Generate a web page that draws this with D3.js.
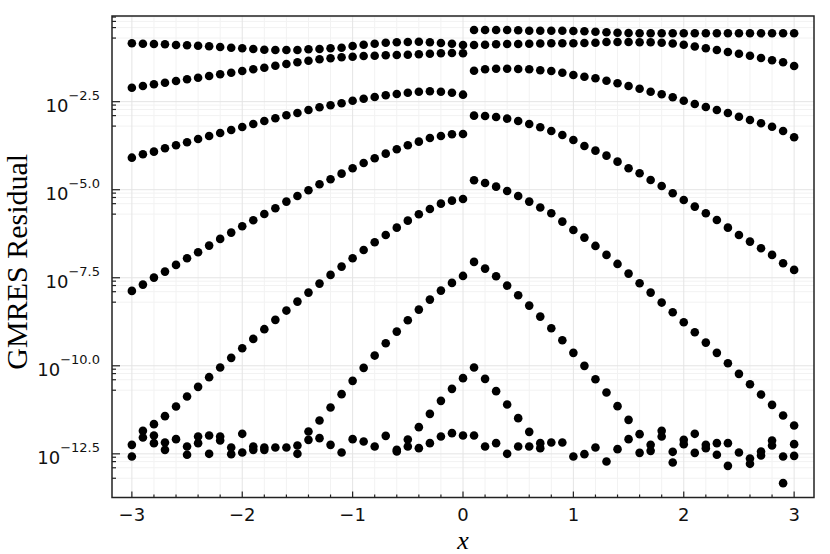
<!DOCTYPE html>
<html><head><meta charset="utf-8">
<script src="https://cdn.jsdelivr.net/npm/d3@7"></script>
<style>body{margin:0;background:#fff}</style>
</head><body>
<svg id="c" width="830" height="554"></svg>
<script>
// x positions of the samples
const xValues = [-3.0,-2.9,-2.8,-2.7,-2.6,-2.5,-2.4,-2.3,-2.2,-2.1,-2.0,-1.9,-1.8,-1.7,-1.6,-1.5,-1.4,-1.3,-1.2,-1.1,-1.0,-0.9,-0.8,-0.7,-0.6,-0.5,-0.4,-0.3,-0.2,-0.1,0.0,
  0.1,0.2,0.3,0.4,0.5,0.6,0.7,0.8,0.9,1.0,1.1,1.2,1.3,1.4,1.5,1.6,1.7,1.8,1.9,2.0,2.1,2.2,2.3,2.4,2.5,2.6,2.7,2.8,2.9,3.0];

// log10 of the GMRES residual, one array per iteration count
const iter1 = [-0.842,-0.854,-0.862,-0.871,-0.891,-0.899,-0.910,-0.927,-0.947,-0.967,-0.984,-1.004,-1.024,-1.032,-1.032,-1.032,-1.013,-1.004,-0.984,-0.967,-0.919,-0.882,-0.854,-0.825,-0.814,-0.805,-0.797,-0.814,-0.834,-0.854,-0.891,
  -0.465,-0.465,-0.465,-0.465,-0.473,-0.485,-0.485,-0.485,-0.485,-0.493,-0.502,-0.513,-0.530,-0.541,-0.550,-0.558,-0.558,-0.558,-0.558,-0.558,-0.558,-0.558,-0.558,-0.558,-0.558,-0.558,-0.558,-0.558,-0.558,-0.558];
const iter2 = [-2.103,-2.054,-2.006,-1.961,-1.912,-1.864,-1.819,-1.770,-1.722,-1.677,-1.629,-1.580,-1.535,-1.478,-1.430,-1.382,-1.336,-1.296,-1.268,-1.240,-1.223,-1.203,-1.194,-1.183,-1.174,-1.166,-1.155,-1.137,-1.126,-1.118,-1.126,
  -0.891,-0.882,-0.871,-0.862,-0.862,-0.854,-0.848,-0.842,-0.842,-0.842,-0.834,-0.825,-0.805,-0.805,-0.805,-0.811,-0.814,-0.825,-0.848,-0.885,-0.933,-0.981,-1.032,-1.089,-1.137,-1.197,-1.260,-1.325,-1.379,-1.487];
const iter3 = [-4.090,-3.993,-3.919,-3.823,-3.738,-3.652,-3.559,-3.474,-3.388,-3.303,-3.218,-3.133,-3.048,-2.971,-2.886,-2.821,-2.736,-2.659,-2.602,-2.545,-2.472,-2.415,-2.367,-2.318,-2.281,-2.245,-2.216,-2.205,-2.216,-2.245,-2.301,
  -1.620,-1.580,-1.563,-1.563,-1.572,-1.580,-1.609,-1.629,-1.677,-1.742,-1.790,-1.836,-1.904,-1.978,-2.054,-2.131,-2.216,-2.290,-2.375,-2.472,-2.565,-2.650,-2.736,-2.821,-2.926,-3.019,-3.113,-3.210,-3.332,-3.511];
const iter4 = [-7.873,-7.694,-7.496,-7.325,-7.135,-6.945,-6.775,-6.587,-6.397,-6.218,-6.037,-5.866,-5.688,-5.526,-5.338,-5.177,-5.015,-4.845,-4.703,-4.544,-4.390,-4.240,-4.107,-3.976,-3.851,-3.738,-3.635,-3.530,-3.474,-3.425,-3.417,
  -2.897,-2.906,-2.934,-2.982,-3.048,-3.133,-3.227,-3.332,-3.445,-3.587,-3.757,-3.891,-4.033,-4.203,-4.390,-4.532,-4.723,-4.893,-5.100,-5.290,-5.480,-5.668,-5.858,-6.077,-6.284,-6.474,-6.661,-6.851,-7.087,-7.277];
const iter5 = [-12.245,-11.847,-11.657,-11.430,-11.157,-10.874,-10.598,-10.323,-10.050,-9.775,-9.500,-9.236,-8.960,-8.696,-8.432,-8.177,-7.922,-7.666,-7.419,-7.183,-6.945,-6.710,-6.491,-6.284,-6.077,-5.878,-5.696,-5.546,-5.395,-5.310,-5.262,
  -4.731,-4.808,-4.913,-5.035,-5.177,-5.338,-5.503,-5.668,-5.906,-6.142,-6.360,-6.596,-6.851,-7.107,-7.382,-7.655,-7.922,-8.205,-8.478,-8.762,-9.046,-9.341,-9.633,-9.926,-10.229,-10.522,-10.817,-11.109,-11.413,-11.697];
const iter6 = [null,null,null,null,null,null,null,null,null,null,null,null,null,null,null,null,-11.867,-11.555,-11.186,-10.805,-10.428,-10.059,-9.710,-9.358,-9.029,-8.705,-8.404,-8.120,-7.865,-7.646,-7.448,
  -7.050,-7.240,-7.456,-7.723,-7.995,-8.291,-8.603,-8.932,-9.273,-9.633,-10.002,-10.380,-10.760,-11.146,-11.535,-11.941,null,null,null,null,null,null,null,null,null,null,null,null,null,null];
const iter7 = [null,null,null,null,null,null,null,null,null,null,null,null,null,null,null,null,null,null,null,null,null,null,null,null,null,-12.094,-11.742,-11.365,-10.996,-10.655,-10.351,
  -10.050,-10.371,-10.720,-11.101,-11.487,-11.876,null,null,null,null,null,null,null,null,null,null,null,null,null,null,null,null,null,null,null,null,null,null,null,null];
// converged (round-off floor) residuals
const floorA = [-12.577,-12.037,-11.981,-12.179,-12.083,-12.293,-12.009,-11.981,-12.009,-12.321,-11.932,-12.293,-12.321,-12.321,-12.321,-12.264,-12.103,-12.054,-12.245,-12.463,-12.083,-12.151,-12.293,-11.989,-12.387,-12.293,-12.338,-12.196,-12.009,-11.912,-11.981,
  -11.981,-12.293,-12.196,-12.500,-12.293,-12.293,-12.196,-12.179,-12.179,-12.577,-12.509,-12.321,-12.719,-12.367,-12.083,-12.472,-12.245,-11.847,-12.443,-12.103,-11.932,-12.245,-12.196,-12.196,-12.463,-12.633,-12.435,-12.123,-12.577,-12.225];
const floorB = [null,null,-12.196,-12.387,null,-12.528,-12.196,-12.500,-12.123,-12.509,-12.463,-12.387,-12.387,null,null,-12.500,null,null,null,null,null,null,null,null,-12.435,null,null,null,null,null,null,
  null,null,null,null,null,null,-12.338,null,null,null,null,null,null,null,null,null,-12.415,-12.009,-12.747,-12.225,-12.472,-12.338,-12.528,-12.841,null,-12.784,-12.548,-12.264,-13.332,-12.557];

const seriesList = [iter1, iter2, iter3, iter4, iter5, iter6, iter7, floorA, floorB];

const xTickValues = [-3,-2,-1,0,1,2,3];
const xTickLabels = ["\u22123","\u22122","\u22121","0","1","2","3"];
const yTickExps = [-2.5,-5,-7.5,-10,-12.5];
const yTickSup = ["\u22122.5","\u22125.0","\u22127.5","\u221210.0","\u221212.5"];

const L=112,R=814,T=16,B=497.5;
const svg = d3.select("#c");
const x = d3.scaleLinear().domain([-3.18,3.18]).range([L,R]);
const y = d3.scaleLog().domain([Math.pow(10,-13.74), Math.pow(10,-0.067)]).range([B,T]);

// minor ticks
const xMinor = d3.range(-15,16).map(k=>k*0.2).filter(v=>Math.abs(v-Math.round(v))>1e-6);
const yMinor = [];
[0,-2.5,-5,-7.5,-10,-12.5].forEach(e=>{
  const hi=Math.pow(10,e), lo=Math.pow(10,e-2.5);
  for(let k=1;k<5;k++){ const v=hi-k*(hi-lo)/5; if(v>y.domain()[0]&&v<y.domain()[1]) yMinor.push(v);}
});
const yMajor = yTickExps.map(e=>Math.pow(10,e));

const g = svg.append("g");
// grid
g.selectAll(".gxm").data(xMinor).join("line").attr("x1",d=>x(d)).attr("x2",d=>x(d)).attr("y1",T).attr("y2",B).attr("stroke","#f2f2f2").attr("stroke-width",1);
g.selectAll(".gym").data(yMinor).join("line").attr("y1",d=>y(d)).attr("y2",d=>y(d)).attr("x1",L).attr("x2",R).attr("stroke","#f2f2f2").attr("stroke-width",1);
g.selectAll(".gx").data(xTickValues).join("line").attr("x1",d=>x(d)).attr("x2",d=>x(d)).attr("y1",T).attr("y2",B).attr("stroke","#e4e4e4").attr("stroke-width",1);
g.selectAll(".gy").data(yMajor).join("line").attr("y1",d=>y(d)).attr("y2",d=>y(d)).attr("x1",L).attr("x2",R).attr("stroke","#e4e4e4").attr("stroke-width",1);

// points
seriesList.forEach(s=>{
  const pts = s.map((v,i)=>[xValues[i],v]).filter(p=>p[1]!==null);
  g.append("g").selectAll("circle").data(pts).join("circle")
    .attr("cx",p=>x(p[0])).attr("cy",p=>y(Math.pow(10,p[1]))).attr("r",4.3).attr("fill","#000");
});

// frame
svg.append("rect").attr("x",L).attr("y",T).attr("width",R-L).attr("height",B-T).attr("fill","none").attr("stroke","#222").attr("stroke-width",1.5);

// ticks (inward)
const ax = svg.append("g");
ax.selectAll(".tx").data(xTickValues).join("line").attr("x1",d=>x(d)).attr("x2",d=>x(d)).attr("y1",B).attr("y2",B-6).attr("stroke","#222").attr("stroke-width",1.2);
ax.selectAll(".txm").data(xMinor).join("line").attr("x1",d=>x(d)).attr("x2",d=>x(d)).attr("y1",B).attr("y2",B-3).attr("stroke","#222").attr("stroke-width",1.2);
ax.selectAll(".ty").data(yMajor).join("line").attr("y1",d=>y(d)).attr("y2",d=>y(d)).attr("x1",L).attr("x2",L+8).attr("stroke","#222").attr("stroke-width",1.2);
ax.selectAll(".tym").data(yMinor).join("line").attr("y1",d=>y(d)).attr("y2",d=>y(d)).attr("x1",L).attr("x2",L+4).attr("stroke","#222").attr("stroke-width",1.2);

const tf = "DejaVu Sans, sans-serif";
// x tick labels
ax.selectAll(".lx").data(xTickValues).join("text").attr("x",d=>x(d)).attr("y",B+23.5)
  .attr("text-anchor","middle").attr("font-family",tf).attr("font-size",18).attr("fill","#111")
  .text((d,i)=>xTickLabels[i]);
// y tick labels with superscripts
yMajor.forEach((v,i)=>{
  const ty = y(v);
  const sup = ax.append("text").attr("x",100).attr("y",ty-1.5).attr("text-anchor","end")
    .attr("font-family",tf).attr("font-size",13).attr("fill","#111").text(yTickSup[i]);
  const w = sup.node().getComputedTextLength();
  ax.append("text").attr("x",100-w).attr("y",ty+10.5).attr("text-anchor","end")
    .attr("font-family",tf).attr("font-size",18).attr("fill","#111").text("10");
});

// axis titles
svg.append("text").attr("transform",`translate(27,${(T+B)/2+5}) rotate(-90)`).attr("text-anchor","middle")
  .attr("font-family","Liberation Serif, DejaVu Serif, serif").attr("font-size",30).attr("fill","#000").text("GMRES Residual");
svg.append("text").attr("x",(L+R)/2).attr("y",549).attr("text-anchor","middle")
  .attr("font-family","Liberation Serif, DejaVu Serif, serif").attr("font-style","italic").attr("font-size",26).attr("fill","#000").text("x");
</script>
</body></html>
